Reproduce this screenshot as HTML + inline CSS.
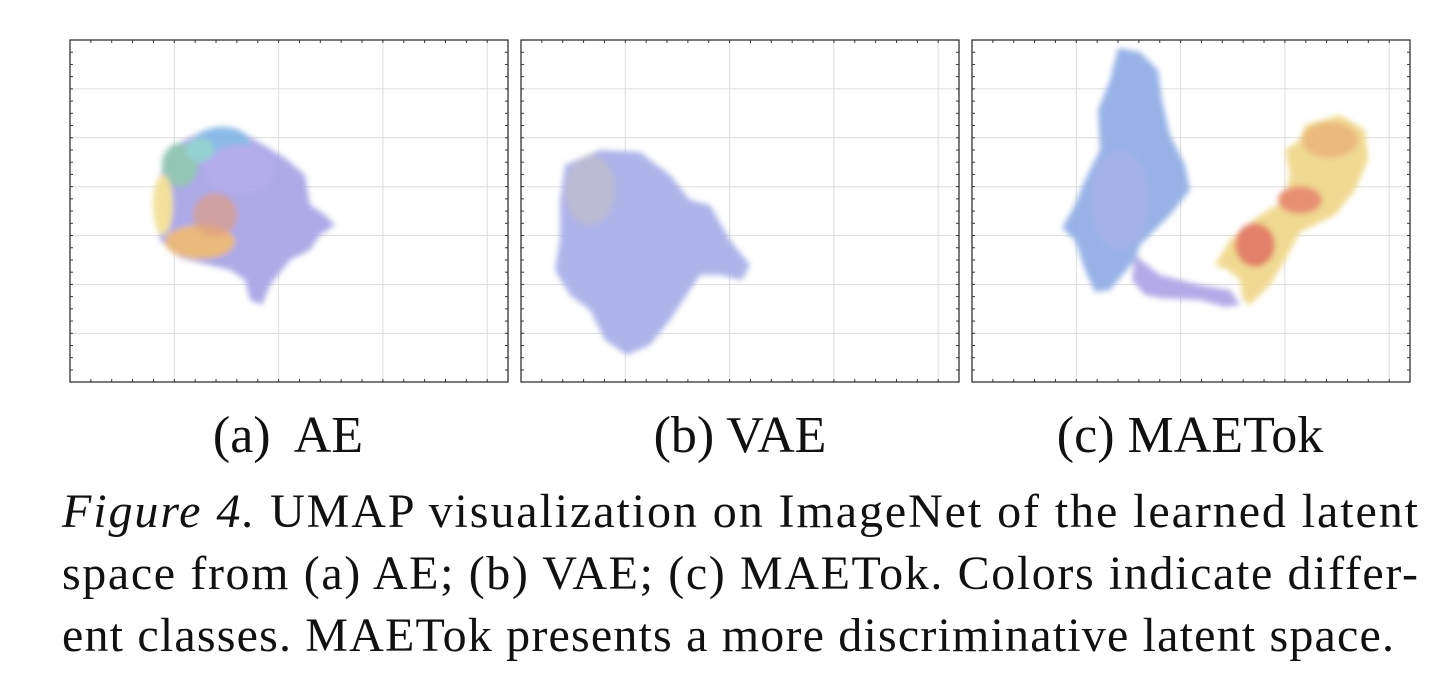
<!DOCTYPE html>
<html><head><meta charset="utf-8"><style>
html,body{margin:0;padding:0;background:#fff;}
svg{display:block}
text{font-family:"Liberation Serif",serif;fill:#111}
</style></head><body>
<svg id="s" width="1454" height="698" viewBox="0 0 1454 698" xmlns="http://www.w3.org/2000/svg">
<defs>
<filter id="b" x="-20%" y="-20%" width="140%" height="140%"><feGaussianBlur stdDeviation="3"/></filter>
</defs>
<g id="grid"></g>
<!-- Panel a -->
<g filter="url(#b)" opacity="0.95">
<path fill="#a9a6e6" d="M175,145 L205,130 L235,128 L255,140 L285,158 L305,175 L310,205 L325,215 L335,225 L320,235 L310,250 L290,260 L270,285 L262,305 L250,300 L245,280 L230,270 L180,258 L160,240 L155,205 L162,170Z"/>
<ellipse cx="180" cy="165" rx="18" ry="22" fill="#8fc3b2"/>
<ellipse cx="222" cy="143" rx="28" ry="16" fill="#86b7e6"/>
<ellipse cx="200" cy="150" rx="14" ry="12" fill="#8fd0d0"/>
<ellipse cx="163" cy="205" rx="10" ry="30" fill="#f2df96"/>
<ellipse cx="200" cy="242" rx="35" ry="17" fill="#e9b676"/>
<ellipse cx="215" cy="215" rx="22" ry="22" fill="#dd9a7a" opacity="0.7"/>
<ellipse cx="240" cy="170" rx="35" ry="25" fill="#b0a8ea"/>
</g>
<!-- Panel b -->
<g filter="url(#b)" opacity="0.95">
<path fill="#a9b0e8" d="M565,165 L600,150 L640,152 L670,175 L690,200 L710,205 L730,240 L750,265 L742,280 L720,275 L700,275 L690,290 L670,320 L650,345 L627,355 L605,340 L590,310 L570,295 L555,270 L560,240 L560,200Z"/>
<ellipse cx="590" cy="190" rx="25" ry="35" fill="#d8c8a8" opacity="0.35"/>
</g>
<!-- Panel c -->
<g filter="url(#b)" opacity="0.95">
<path fill="#93aee6" d="M1118,48 L1140,52 L1158,70 L1162,100 L1170,135 L1185,165 L1190,190 L1170,215 L1140,245 L1135,260 L1110,290 L1095,292 L1085,270 L1075,240 L1062,228 L1075,205 L1085,180 L1100,150 L1098,110 L1110,80Z"/>
<path fill="#b0a6e6" d="M1135,255 L1160,275 L1200,285 L1230,290 L1240,305 L1225,307 L1200,300 L1160,298 L1145,295 L1132,280Z"/>
<path fill="#f0d88c" d="M1305,125 L1340,115 L1365,130 L1368,160 L1355,190 L1335,215 L1300,232 L1285,260 L1270,285 L1250,305 L1243,300 L1240,280 L1228,270 L1215,265 L1230,240 L1260,215 L1285,200 L1290,175 L1285,150 L1300,140Z"/>
<ellipse cx="1330" cy="140" rx="28" ry="18" fill="#e9b676"/>
<ellipse cx="1255" cy="245" rx="20" ry="22" fill="#e27a62"/>
<ellipse cx="1300" cy="200" rx="22" ry="14" fill="#e58a6a"/>
<ellipse cx="1120" cy="200" rx="30" ry="50" fill="#a0aee8"/>
</g>
<g id="frames"></g>
<text x="288" y="452" font-size="52" text-anchor="middle" xml:space="preserve">(a)  AE</text>
<text x="740" y="452" font-size="52" text-anchor="middle">(b) VAE</text>
<text x="1190" y="452" font-size="52" text-anchor="middle">(c) MAETok</text>
<text x="62" y="527" font-size="48" textLength="1356" lengthAdjust="spacing"><tspan font-style="italic">Figure 4.</tspan> UMAP visualization on ImageNet of the learned latent</text>
<text x="62" y="589" font-size="48" textLength="1356" lengthAdjust="spacing">space from (a) AE; (b) VAE; (c) MAETok. Colors indicate differ-</text>
<text x="62" y="651" font-size="48" textLength="1332" lengthAdjust="spacing">ent classes. MAETok presents a more discriminative latent space.</text>
</svg>
<script>
var NS="http://www.w3.org/2000/svg";
function el(p,t,a){var e=document.createElementNS(NS,t);for(var k in a)e.setAttribute(k,a[k]);p.appendChild(e);return e;}
var g=document.getElementById('grid'),f=document.getElementById('frames');
[70,521,972].forEach(function(L){
 var R=L+438,T=40,B=382;
 for(var i=1;i<=4;i++){var x=L+104.3*i;el(g,'line',{x1:x,y1:T,x2:x,y2:B,stroke:'#ddd','stroke-width':1});}
 for(var j=1;j<=6;j++){var y=T+48.9*j;el(g,'line',{x1:L,y1:y,x2:R,y2:y,stroke:'#ddd','stroke-width':1});}
 el(f,'rect',{x:L,y:T,width:438,height:342,fill:'none',stroke:'#222','stroke-width':1.2});
 for(var x=L+20.86;x<R-1;x+=20.86){el(f,'line',{x1:x,y1:B,x2:x,y2:B-3,stroke:'#333'});el(f,'line',{x1:x,y1:T,x2:x,y2:T+3,stroke:'#333'});}
 for(var y=T+12.22;y<B-1;y+=12.22){el(f,'line',{x1:L,y1:y,x2:L+3,y2:y,stroke:'#333'});el(f,'line',{x1:R,y1:y,x2:R-3,y2:y,stroke:'#333'});}
});
</script>
</body></html>
